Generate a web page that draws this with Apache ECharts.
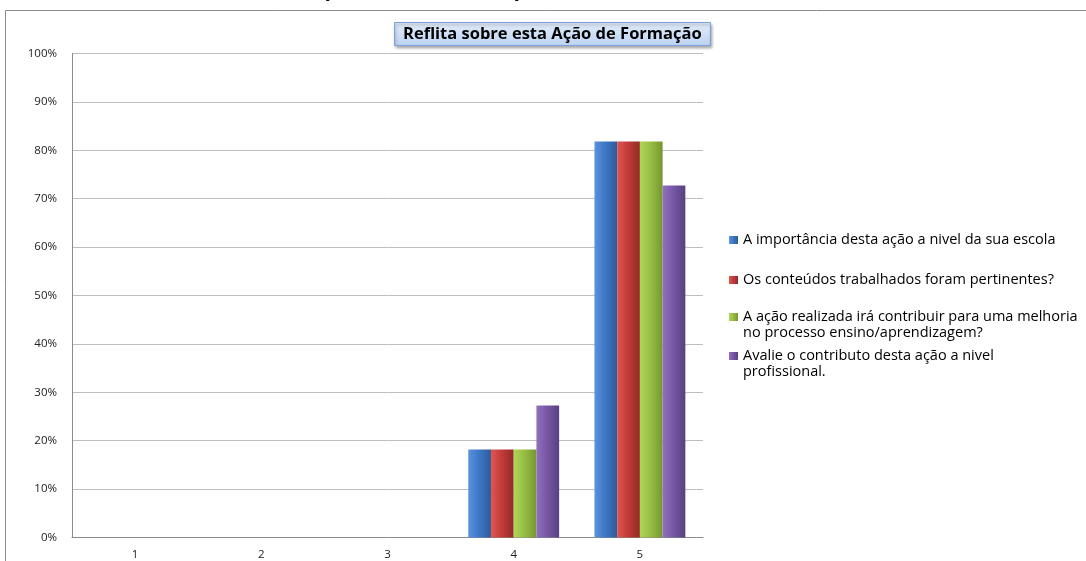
<!DOCTYPE html>
<html>
<head>
<meta charset="utf-8">
<script src="https://cdn.jsdelivr.net/npm/echarts@6/dist/echarts.min.js"></script>
<style>
html,body{margin:0;padding:0;background:#fff;}
#c{width:1086px;height:561px;}
</style>
</head>
<body>
<div id="c"></div>
<script>
const categories = ['1', '2', '3', '4', '5'];
const seriesNames = [
  'A importância desta ação a nivel da sua escola',
  'Os conteúdos trabalhados foram pertinentes?',
  'A ação realizada irá contribuir para uma melhoria\nno processo ensino/aprendizagem?',
  'Avalie o contributo desta ação a nivel\nprofissional.'
];
const importancia = [0, 0, 0, 18.18, 81.82];
const conteudos = [0, 0, 0, 18.18, 81.82];
const contribuir = [0, 0, 0, 18.18, 81.82];
const profissional = [0, 0, 0, 27.27, 72.73];
const yTicks = { min: 0, max: 100, interval: 10 };
const chartTitle = 'Reflita sobre esta Ação de Formação';

const palettes = [
  ['#5b93dc', '#3e78c6', '#2b5c9c'],
  ['#df5651', '#c43c3a', '#922a28'],
  ['#b0d458', '#98bf44', '#76962f'],
  ['#9171bd', '#7858a6', '#574080']
];
function grad(p) {
  return new echarts.graphic.LinearGradient(0, 0, 1, 0, [
    { offset: 0, color: p[0] },
    { offset: 0.45, color: p[1] },
    { offset: 1, color: p[2] }
  ]);
}
const values = [importancia, conteudos, contribuir, profissional];

const chart = echarts.init(document.getElementById('c'), null, { renderer: 'canvas' });
const LH = 15.5;
const legendTops = [240 - LH / 2, 280 - LH / 2, 317 - LH / 2, 356 - LH / 2];
const oneLineIcon = 'rect';
const twoLineIcon = 'path://M0,3.75H9V11.75H0Z M0,0L0.001,0L0,0.001Z M9,31L8.999,31L9,30.999Z';
const option = {
  animation: false,
  title: {
    text: chartTitle,
    left: 394, top: 22,
    padding: [3, 9, 3, 9],
    backgroundColor: new echarts.graphic.LinearGradient(0, 0, 0, 1, [
      { offset: 0, color: '#e2ecfa' }, { offset: 1, color: '#bcd3f1' }
    ]),
    borderColor: '#7aa3dc', borderWidth: 1,
    shadowBlur: 3, shadowColor: 'rgba(0,0,0,0.35)', shadowOffsetX: 1, shadowOffsetY: 2,
    textStyle: { fontFamily: 'Open Sans', fontWeight: 'bold', fontSize: 16.5, color: '#000', lineHeight: 18 }
  },
  graphic: [
    { type: 'rect', shape: { x: 5.5, y: 10.5, width: 1300, height: 800 }, style: { fill: 'none', stroke: '#8c8c8c', lineWidth: 1 }, z: -1 },
    { type: 'text', x: 323, y: -16, style: { text: 'ç', font: 'bold 17px "Open Sans"', fill: '#000' } },
    { type: 'text', x: 512, y: -16, style: { text: 'ç', font: 'bold 17px "Open Sans"', fill: '#000' } }
  ],
  legend: seriesNames.map((n, i) => ({
    data: [{ name: n, icon: i < 2 ? oneLineIcon : twoLineIcon }],
    orient: 'vertical', left: 729, top: legendTops[i], padding: 0,
    itemWidth: 9, itemHeight: i < 2 ? 8 : 31, itemGap: 4,
    itemStyle: { borderWidth: 0 },
    textStyle: { fontFamily: 'Open Sans', fontSize: 14.5, color: '#000', lineHeight: LH },
    selectedMode: false
  })),
  grid: { left: 72, right: 383, top: 53.5, bottom: 23.5, containLabel: false },
  xAxis: {
    type: 'category', data: categories,
    axisLine: { lineStyle: { color: '#8c8c8c' } },
    axisTick: { show: false },
    axisLabel: { color: '#222', fontFamily: 'Open Sans', fontSize: 11.5, margin: 11 }
  },
  yAxis: {
    type: 'value', min: yTicks.min, max: yTicks.max, interval: yTicks.interval,
    axisLine: { show: true, lineStyle: { color: '#8c8c8c' } },
    axisTick: { show: false },
    splitLine: { lineStyle: { color: '#bdbdbd' } },
    axisLabel: { formatter: '{value}%', color: '#222', fontFamily: 'Open Sans', fontSize: 11.5, margin: 15 }
  },
  series: seriesNames.map((n, i) => ({
    name: n, type: 'bar', data: values[i],
    barGap: '0%', barCategoryGap: '28%',
    itemStyle: { color: grad(palettes[i]), borderWidth: 0 }
  }))
};
chart.setOption(option);
</script>
</body>
</html>
